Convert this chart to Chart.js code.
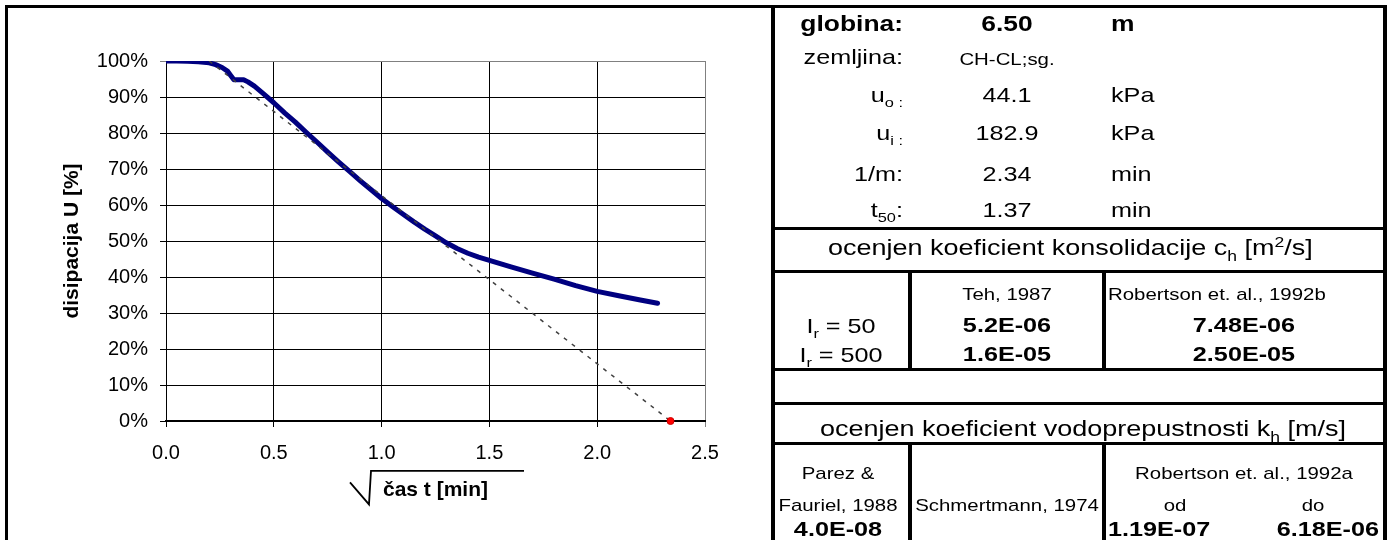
<!DOCTYPE html>
<html>
<head>
<meta charset="utf-8">
<title>Disipacija pornega tlaka</title>
<script src="https://cdn.jsdelivr.net/npm/chart.js@4.4.0/dist/chart.umd.min.js"></script>
<style>
  html, body { margin: 0; padding: 0; background: #fff; }
  body { width: 1389px; height: 540px; position: relative; overflow: hidden;
         font-family: "Liberation Sans", Arial, sans-serif; color: #000; }
  #chart { position: absolute; left: 0; top: 0; }
  .ln { position: absolute; background: #000; }
  /* table text is drawn a bit wider than the font, like the spreadsheet printout */
  .t { position: absolute; white-space: nowrap; line-height: 1; transform: scaleX(1.2); }
  .t.l { transform-origin: left center; }
  .t.c { width: 400px; text-align: center; transform-origin: center center; }
  .t.r { width: 300px; text-align: right; transform-origin: right center; }
  .b { font-weight: bold; }
  .f23 { font-size: 22.5px; }
  .f22 { font-size: 22px; }
  .f21 { font-size: 21px; }
  .f17 { font-size: 17px; }
  sub, sup { font-size: 0.65em; line-height: 0; }
</style>
</head>
<body>
<canvas id="chart" width="770" height="540"></canvas>

<!-- frame and table rules -->
<div class="ln" style="left:5px;top:5px;width:1382px;height:3px"></div>
<div class="ln" style="left:5px;top:5px;width:3px;height:535px"></div>
<div class="ln" style="left:771px;top:5px;width:4px;height:535px"></div>
<div class="ln" style="left:1383px;top:5px;width:4px;height:535px"></div>
<div class="ln" style="left:771px;top:227px;width:616px;height:3px"></div>
<div class="ln" style="left:771px;top:270px;width:616px;height:3px"></div>
<div class="ln" style="left:771px;top:368px;width:616px;height:3px"></div>
<div class="ln" style="left:771px;top:402px;width:616px;height:3px"></div>
<div class="ln" style="left:771px;top:442px;width:616px;height:3px"></div>
<div class="ln" style="left:908px;top:270px;width:4px;height:100px"></div>
<div class="ln" style="left:1102px;top:270px;width:4px;height:100px"></div>
<div class="ln" style="left:908px;top:442px;width:4px;height:98px"></div>
<div class="ln" style="left:1102px;top:442px;width:4px;height:98px"></div>

<!-- sounding data -->
<div class="t r f22 b" data-x="903" data-y="32">globina:</div>
<div class="t c f22 b" data-x="1007" data-y="32">6.50</div>
<div class="t l f22 b" data-x="1111" data-y="32">m</div>
<div class="t r f21" data-x="903" data-y="64">zemljina:</div>
<div class="t c f17" data-x="1007" data-y="65">CH-CL;sg.</div>
<div class="t r f21" data-x="903" data-y="102">u<sub>o :</sub></div>
<div class="t c f21" data-x="1007" data-y="102">44.1</div>
<div class="t l f21" data-x="1111" data-y="102">kPa</div>
<div class="t r f21" data-x="903" data-y="140">u<sub>i :</sub></div>
<div class="t c f21" data-x="1007" data-y="140">182.9</div>
<div class="t l f21" data-x="1111" data-y="140">kPa</div>
<div class="t r f21" data-x="903" data-y="181">1/m:</div>
<div class="t c f21" data-x="1007" data-y="181">2.34</div>
<div class="t l f21" data-x="1111" data-y="181">min</div>
<div class="t r f21" data-x="903" data-y="217">t<sub>50</sub>:</div>
<div class="t c f21" data-x="1007" data-y="217">1.37</div>
<div class="t l f21" data-x="1111" data-y="217">min</div>

<!-- consolidation coefficient -->
<div class="t c f23" data-x="1068" data-y="256">ocenjen koeficient konsolidacije c<sub>h</sub> [m<sup>2</sup>/s]</div>
<div class="t c f17" data-x="1007" data-y="300">Teh, 1987</div>
<div class="t l f17" data-x="1108" data-y="300">Robertson et. al., 1992b</div>
<div class="t c f21" data-x="841" data-y="333">I<sub>r</sub> = 50</div>
<div class="t c f21 b" data-x="1007" data-y="332">5.2E-06</div>
<div class="t c f21 b" data-x="1244" data-y="332">7.48E-06</div>
<div class="t c f21" data-x="841" data-y="362">I<sub>r</sub> = 500</div>
<div class="t c f21 b" data-x="1007" data-y="361">1.6E-05</div>
<div class="t c f21 b" data-x="1244" data-y="361">2.50E-05</div>

<!-- permeability -->
<div class="t c f23" data-x="1060" data-y="437">ocenjen koeficient vodoprepustnosti k<sub>h</sub> [m/s]</div>
<div class="t c f17" data-x="838" data-y="479">Parez &amp;</div>
<div class="t c f17" data-x="838" data-y="511">Fauriel, 1988</div>
<div class="t c f17" data-x="1007" data-y="511">Schmertmann, 1974</div>
<div class="t c f17" data-x="1244" data-y="479">Robertson et. al., 1992a</div>
<div class="t c f17" data-x="1175" data-y="511">od</div>
<div class="t c f17" data-x="1313" data-y="511">do</div>
<div class="t c f21 b" data-x="838" data-y="536">4.0E-08</div>
<div class="t l f21 b" data-x="1108" data-y="536">1.19E-07</div>
<div class="t r f21 b" data-x="1379" data-y="536">6.18E-06</div>

<script>
// root of time, sqrt(t) [min^0.5]
const sqrtT = [0.00, 0.05, 0.10, 0.15, 0.20, 0.23, 0.26, 0.285, 0.30, 0.315,
               0.36, 0.38, 0.41, 0.45, 0.50, 0.55, 0.60, 0.65, 0.70, 0.75,
               0.80, 0.85, 0.90, 0.95, 1.00, 1.05, 1.10, 1.15, 1.20, 1.25,
               1.30, 1.35, 1.40, 1.45, 1.50, 1.60, 1.70, 1.80, 1.90, 2.00,
               2.10, 2.20, 2.28];
// measured dissipation U [%]
const dissU = [100, 100, 99.9, 99.8, 99.5, 99.0, 98.2, 97.2, 96.0, 94.8,
               94.8, 94.2, 93.0, 91.0, 88.4, 85.6, 83.0, 80.2, 77.5, 74.7,
               72.0, 69.4, 66.8, 64.3, 61.8, 59.6, 57.4, 55.3, 53.3, 51.4,
               49.5, 47.9, 46.6, 45.5, 44.6, 42.8, 41.1, 39.4, 37.6, 36.0,
               34.8, 33.6, 32.7];
// straight line fitted to the early part, it hits U = 0 at 1/m
const tangentT = [0.20, 2.34];
const tangentU = [100, 0];
const oneOverM = [2.34];
const zeroU = [0];

const xTickLabels = ['0.0', '0.5', '1.0', '1.5', '2.0', '2.5'];
const yTickLabels = ['0%', '10%', '20%', '30%', '40%', '50%', '60%', '70%', '80%', '90%', '100%'];

// place the table labels on their baselines
document.querySelectorAll('.t').forEach(function(el) {
    const x = +el.dataset.x;
    const base = +el.dataset.y;
    const size = parseFloat(getComputedStyle(el).fontSize);
    let left = x;
    if (el.classList.contains('c')) left = x - 200;
    if (el.classList.contains('r')) left = x - 300;
    el.style.left = left + 'px';
    el.style.top = (base - 0.8465 * size) + 'px';
});

const FONT = '"Liberation Sans", Arial, sans-serif';
Chart.defaults.font.family = FONT;
Chart.defaults.color = '#000';

// radical sign drawn around the x axis title
const radicalSign = {
    id: 'radicalSign',
    afterDraw(chart) {
        const sx = chart.scales.x;
        const c = chart.ctx;
        c.save();
        c.font = 'bold 21px ' + FONT;
        const w = c.measureText(sx.options.title.text).width;
        const x0 = (sx.left + sx.right) / 2 - w / 2;
        const cy = sx.bottom - 12.6;
        c.strokeStyle = '#000';
        c.lineWidth = 1.8;
        c.beginPath();
        c.moveTo(x0 - 33, cy - 8);
        c.lineTo(x0 - 14, cy + 14);
        c.lineTo(x0 - 12, cy - 19.5);
        c.lineTo(x0 + w + 36, cy - 19.5);
        c.stroke();
        c.restore();
    }
};

const ctx = document.getElementById('chart').getContext('2d');

new Chart(ctx, {
    type: 'scatter',
    data: {
        datasets: [{
            label: 'U',
            data: sqrtT.map((t, i) => ({ x: t, y: dissU[i] })),
            showLine: true,
            borderColor: '#000080',
            borderWidth: 5,
            borderJoinStyle: 'round',
            borderCapStyle: 'round',
            pointRadius: 0,
            order: 2
        }, {
            label: 'tangenta',
            data: tangentT.map((t, i) => ({ x: t, y: tangentU[i] })),
            showLine: true,
            borderColor: '#404040',
            borderWidth: 1.5,
            borderDash: [4, 6],
            pointRadius: 0,
            order: 1
        }, {
            label: '1/m',
            data: oneOverM.map((t, i) => ({ x: t, y: zeroU[i] })),
            pointRadius: 3.5,
            backgroundColor: '#ff0000',
            borderColor: '#d00000',
            borderWidth: 1,
            clip: false,
            order: 0
        }]
    },
    options: {
        responsive: false,
        animation: false,
        layout: {
            padding: { left: 60, top: 61, right: 65, bottom: 37 }
        },
        plugins: {
            legend: { display: false },
            tooltip: { enabled: false }
        },
        scales: {
            x: {
                type: 'linear',
                min: 0,
                max: 2.5,
                ticks: {
                    stepSize: 0.5,
                    padding: 14,
                    maxRotation: 0,
                    font: { size: 20 },
                    callback: (v, i) => xTickLabels[i]
                },
                grid: {
                    color: c => (c.tick && c.tick.value === 2.5) ? '#808080' : '#000',
                    lineWidth: 1,
                    tickLength: 6
                },
                border: { color: '#000', width: 2 },
                title: {
                    display: true,
                    text: 'čas t [min]',
                    font: { size: 21, weight: 'bold' },
                    padding: 0
                },
                afterFit: s => { s.height = 82; }
            },
            y: {
                min: 0,
                max: 100,
                ticks: {
                    stepSize: 10,
                    padding: 12,
                    font: { size: 20 },
                    callback: (v, i) => yTickLabels[i]
                },
                grid: {
                    color: c => (c.tick && c.tick.value === 100) ? '#808080' : '#000',
                    lineWidth: 1,
                    tickLength: 6
                },
                border: { color: '#000', width: 1 },
                title: {
                    display: true,
                    text: 'disipacija U [%]',
                    font: { size: 21, weight: 'bold' },
                    padding: 0
                },
                afterFit: s => { s.width = 106; }
            }
        }
    },
    plugins: [radicalSign]
});
</script>
</body>
</html>
